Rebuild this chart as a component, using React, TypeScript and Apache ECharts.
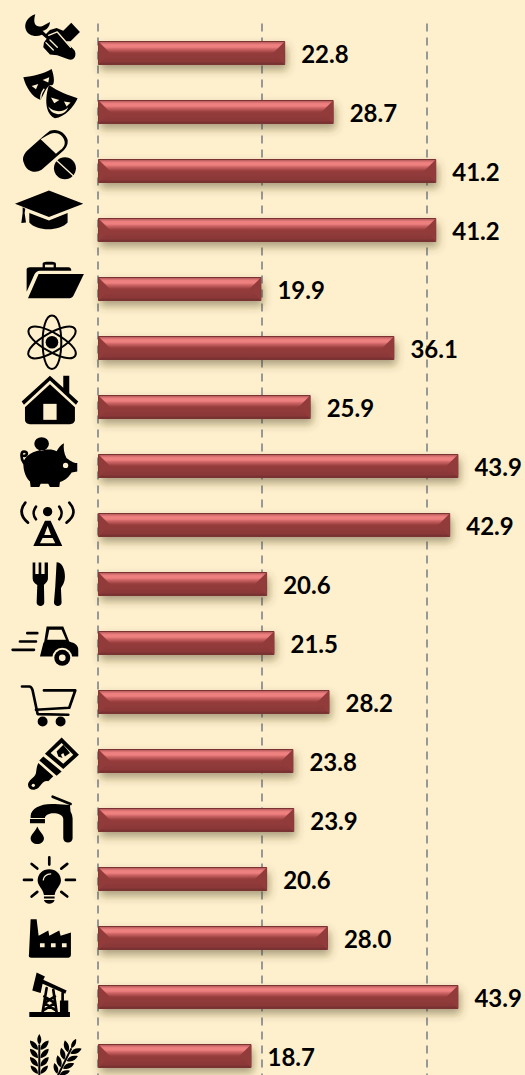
import React, { useEffect, useRef } from "react";
import * as echarts from "echarts";

const categories = ["Services","Arts","Health","Education","Business","Science","Housing","Finance","Telecom","Food","Transport","Retail","Construction","Water","Electricity","Manufacturing","Oil","Agriculture"];
const values = [22.8,28.7,41.2,41.2,19.9,36.1,25.9,43.9,42.9,20.6,21.5,28.2,23.8,23.9,20.6,28.0,43.9,18.7];
const ticks = [0,20,40];
const BG = "#fef0cd";

// icon glyphs: layers of [kind, path, rotation, shiftX, originX, originY]; k = black fill, w = background fill,
// K = black stroke, W = background stroke, A = thin black stroke. Drawn on a 3x grid.
type Layer = [string, string, number?, number?, number?, number?];
const wheat = "M118 763C126 775 126 785 118 795C110 785 110 775 118 763ZM90 782C105 785 115 795 114 810C100 808 90 798 90 782ZM146 782C131 785 121 795 122 810C136 808 146 798 146 782ZM90 807C105 810 115 820 114 835C100 833 90 823 90 807ZM146 807C131 810 121 820 122 835C136 833 146 823 146 807ZM90 832C105 835 115 845 114 860C100 858 90 848 90 832ZM146 832C131 835 121 845 122 860C136 858 146 848 146 832ZM92 857C105 860 115 868 114 882C102 880 92 870 92 857ZM144 857C131 860 121 868 122 882C134 880 144 870 144 857ZM115 795L121 795L121 890L115 890Z";
const orbit = "M156 197C136 197 128 240 128 277C128 314 136 357 156 357C176 357 184 314 184 277C184 240 176 197 156 197Z";
const icons: Layer[][] = [
  [["k","M106 43C84 50 70 70 78 90C86 108 108 112 126 104L140 116L132 128L130 142L150 164L172 166L205 178C220 184 232 170 224 152L198 124L212 124L240 96L214 68L190 92L170 84L150 90L138 102L128 92C140 92 150 78 150 66L128 78C112 84 96 76 106 43Z"],["W","M146 106L172 96L212 142"],["W","M138 128L160 150M150 120L172 142"]],
  [["k","M70 232C100 228 130 222 155 207C165 235 165 262 150 255L146 258C136 268 128 290 122 300C96 292 78 262 70 232Z"],["w","M95 258L115 252L108 268ZM128 240L148 232L145 248Z"],["W","M132 268C122 282 120 290 124 302"],["k","M147 255C175 275 205 285 233 295C222 320 195 352 165 355C142 345 130 310 147 255Z"],["w","M153 293L178 300L163 310ZM192 305L212 308L200 320ZM145 320C160 338 190 338 205 322C195 350 155 350 145 320Z"]],
  [["k","M150 393C170 385 195 395 203 420C205 435 198 445 190 453L125 510C105 522 80 515 72 490C65 475 72 462 82 452L135 405Z"],["w","M152 402C170 395 190 405 194 425C196 435 190 445 182 450L168 462L122 418L140 408Z"],["w","M195 466A39 39 0 1 0 195 544A39 39 0 1 0 195 466Z"],["k","M195 472A33 33 0 1 0 195 538A33 33 0 1 0 195 472Z"],["W","M170 482L220 528"]],
  [["k","M45 612L147 572L250 612L147 652ZM88 640L147 662L203 640L203 668C180 695 110 695 88 668ZM68 622L76 627L74 640L78 668L64 670L68 640Z"]],
  [["k","M80 58C80 54 85 52 90 52L128 52L128 42C128 36 134 35 148 35C162 35 168 36 168 42L168 52L205 52C212 52 214 56 214 62L120 62C112 62 108 66 104 72L80 125ZM116 72L252 72L220 138C217 143 212 145 205 145L84 145Z"],["w","M135 52L135 44L161 44L161 52Z"]],
  [["A",orbit,0,0,156,277],["A",orbit,1.047,0,156,277],["A",orbit,-1.047,0,156,277],["k","M156 258A19 19 0 1 0 156 296A19 19 0 1 0 156 258Z"]],
  [["k","M150 378L190 414L190 378L208 378L208 430L235 455L228 465L150 392L72 465L65 455ZM150 403L225 472L225 510C225 518 218 523 210 523L90 523C82 523 75 518 75 510L75 472Z"],["w","M130 462L170 462L170 510L130 510Z"]],
  [["k","M125 562A22 20 0 1 0 125 602A22 20 0 1 0 125 562ZM70 640C72 620 100 600 135 600C150 598 162 600 170 604C175 595 182 585 192 580C190 595 192 610 200 625C212 632 216 638 232 640L232 665L215 668C208 680 198 690 180 697L178 712L150 712L145 702L122 702L118 712L92 712L90 695C78 685 70 665 70 640Z"],["K","M72 640C62 625 62 605 72 605C85 605 82 620 72 618"],["w","M197 639A8 8 0 1 0 197 655A8 8 0 1 0 197 639Z"]],
  [["k","M143 81A14 14 0 1 0 143 109A14 14 0 1 0 143 81ZM135 122L152 122L187 198L100 198Z"],["w","M143 138L133 165L153 165ZM128 174L158 174L166 190L120 190Z"],["K","M108 80C98 95 98 105 108 118M76 68C60 88 60 108 84 128M178 80C188 95 188 105 178 118M208 68C226 88 226 108 200 128"]],
  [["k","M98 248L106 248L106 282L116 282L116 248L124 248L124 282L134 282L134 248L144 248L144 295C144 305 136 310 132 315L133 368C133 382 110 382 110 368L112 315C104 310 98 305 98 295ZM170 247C185 247 195 265 195 290C195 310 185 320 183 325L185 368C185 382 162 382 162 368L166 320Z"]],
  [["k","M140 440L190 440L208 485C225 490 235 495 235 510L235 530L120 530L130 490L133 485Z"],["w","M148 450L185 450L198 480L142 480Z"],["w","M187 504A30 30 0 1 0 187 564A30 30 0 1 0 187 504Z"],["k","M187 510A24 24 0 1 0 187 558A24 24 0 1 0 187 510Z"],["w","M187 524A10 10 0 1 0 187 544A10 10 0 1 0 187 524Z"],["K","M82 460L112 460M60 485L108 485M38 510L102 510"]],
  [["K","M66 620L88 620C94 620 96 625 98 632L113 703L205 705"],["K","M132 632L226 632L208 684L108 690"],["k","M128 710A15 15 0 1 0 128 740A15 15 0 1 0 128 710ZM182 710A15 15 0 1 0 182 740A15 15 0 1 0 182 710Z"]],
  [["k","M185 773L237 825L190 868L135 822ZM130 830L185 875L170 888L118 842ZM115 850L160 890L145 905C130 900 125 915 115 925C100 935 85 930 84 915C85 900 105 895 108 880C110 868 110 860 115 850Z"],["w","M185 790L220 825L190 852L152 820Z"],["k","M170 815L190 795L210 820L195 830L190 820L183 825L188 835L175 830Z"],["w","M100 912A5 5 0 1 0 100 922A5 5 0 1 0 100 912Z"]],
  [["k","M160 72C190 70 217 85 218 115L218 175C218 192 190 192 190 175L190 118C190 105 175 100 160 100C145 100 135 108 135 114L92 114L92 108C92 85 125 70 160 72ZM165 72L210 75L212 95L190 90ZM90 117L135 117L135 130L90 130ZM112 140C118 155 132 165 132 175C132 198 92 198 92 175C92 165 106 155 112 140Z"],["K","M158 50L212 72"]],
  [["K","M148 232L148 254M95 252L112 266M202 252L184 266M72 300L96 300M225 300L198 300M95 350L112 336M202 350L184 336"],["k","M148 268C128 268 113 282 113 302C113 318 128 325 132 345L164 345C168 325 183 318 183 302C183 282 168 268 148 268ZM132 350L164 350L164 356L132 356ZM132 360L164 360C160 375 136 375 132 360Z"],["W","M130 300C130 290 140 282 152 282"]],
  [["k","M92 418L110 418L116 468L145 452L148 468L178 452L182 468L213 458L213 525C213 532 208 534 205 534L95 534C88 534 85 530 87 524Z"],["w","M120 490L134 490L134 502L120 502ZM153 490L167 490L167 502L153 502ZM186 490L200 490L200 502L186 502Z"]],
  [["k","M88 697L210 697L210 712L88 712ZM97 632L110 578L135 590L130 600L200 632L196 642L128 612L122 640ZM180 662L205 662L205 697L180 697Z"],["K","M140 625L128 697M160 630L170 697M133 650L165 670L130 692M165 650L133 670L168 692M188 640L188 662"]],
  [["k",wheat,0,0,118,885],["k",wheat,-0.46,56,118,885]],
];
const cropY = [0,0,0,0,250,250,250,250,480,480,480,480,480,780,780,780,780,780];
const refCenterY = [53,112,171,230,289,348,407,466,525,584,643,702,761,820,879,938,997,1056];

const pxPerUnit = 8.21;

function bevel(params:any, api:any){
  const c = api.coord([api.value(1), api.value(0)]);
  const o = api.coord([0, api.value(0)]);
  const h = 24, b = 12, L=o[0], R=c[0], M=c[1], T=M-h/2, B=M+h/2;
  return {type:"group",children:[
    {type:"polygon",shape:{points:[[L+0.5,T+0.5],[L+b,M],[L+0.5,B-0.5]]},style:{fill:"#913b3b"}},
    {type:"polygon",shape:{points:[[R-0.5,T+0.5],[R-b,M],[R-0.5,B-0.5]]},style:{fill:"#913b3b"}},
  ]};
}

function iconItem(params:any, api:any){
  const i = params.dataIndex; const c = api.coord([0, api.value(0)]);
  const children = icons[i].map((l)=>{
    const kind = l[0];
    const stroke = kind==="K"||kind==="W"||kind==="A";
    const color = kind==="w"||kind==="W" ? BG : "#000";
    return {type:"path",shape:{pathData:l[1]},
      rotation:l[2]||0,originX:l[4]||0,originY:l[5]||0,x:l[3]||0,
      style:stroke?{fill:"none",stroke:color,lineWidth:kind==="K"?8:kind==="A"?6:4,lineCap:"round",lineJoin:"round"}:{fill:color}};
  });
  return {type:"group",x:c[0]-98,y:c[1]-refCenterY[i]+cropY[i],scaleX:1/3,scaleY:1/3,children};
}

export default function App(){
  const ref = useRef<HTMLDivElement>(null);
  useEffect(()=>{
    document.body.style.margin="0";
    const chart = echarts.init(ref.current!,undefined,{renderer:"svg"});
    chart.setOption({
      animation:false,
      backgroundColor:BG,
      grid:{left:98,top:23.5,width:525-98,height:59*categories.length,containLabel:false},
      xAxis:{type:"value",min:0,max:(525-98)/pxPerUnit,interval:ticks[1],
        axisLabel:{show:false},axisLine:{show:false},axisTick:{show:false},
        splitLine:{show:true,showMaxLine:false,lineStyle:{color:"#7d848c",width:1.6,type:[8,6]}}},
      yAxis:{type:"category",inverse:true,data:categories,
        axisLabel:{show:false},axisLine:{show:false},axisTick:{show:false},splitLine:{show:false}},
      series:[
        {type:"bar",data:values,barWidth:24,
          itemStyle:{borderColor:"#7a3030",borderWidth:1,shadowColor:"rgba(70,60,20,0.45)",shadowBlur:8,shadowOffsetX:2,shadowOffsetY:5,
            color:{type:"linear",x:0,y:0,x2:0,y2:1,colorStops:[
              {offset:0,color:"#a85656"},{offset:0.07,color:"#d06c6c"},{offset:0.14,color:"#ee8080"},{offset:0.24,color:"#ee8080"},{offset:0.34,color:"#c86060"},{offset:0.5,color:"#953c3c"},{offset:0.88,color:"#8a3838"},{offset:1,color:"#6f2e2e"}]}},
          label:{show:true,position:"right",distance:16,formatter:(p:any)=>p.value.toFixed(1),
            fontFamily:"Lato",fontWeight:"bold",fontSize:24,color:"#000"}},
        {type:"custom",data:categories.map((c,i)=>[c,values[i]]),encode:{x:1,y:0},renderItem:bevel,silent:true,z:3},
        {type:"custom",data:categories.map((c,i)=>[c,values[i]]),encode:{x:1,y:0},renderItem:iconItem,silent:true,clip:false,z:4},
      ],
    });
    return ()=>chart.dispose();
  },[]);
  return <div style={{width:525,height:1075,overflow:"hidden"}}><div ref={ref} style={{width:525,height:1110}}/></div>;
}
